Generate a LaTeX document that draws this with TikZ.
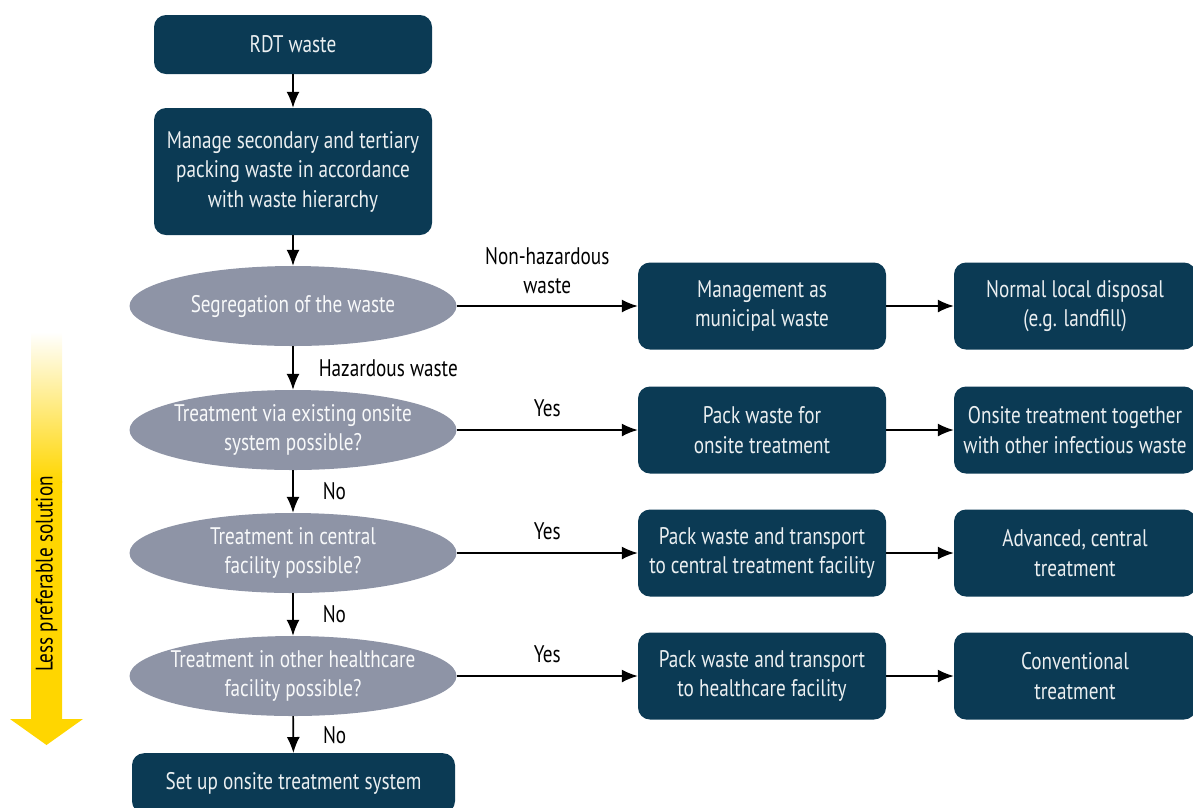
\documentclass[tikz,border=0pt]{standalone}
\usepackage{fontspec}
\setmainfont[FakeStretch=0.8]{PT Sans}
\usetikzlibrary{arrows.meta,shapes.geometric}
\definecolor{bleuBoite}{RGB}{11,58,84}
\definecolor{grisBulle}{RGB}{142,148,166}
\definecolor{jauneFleche}{RGB}{255,214,0}

\begin{document}
\begin{tikzpicture}[x=1pt,y=-1pt]
    % Styles
    \tikzstyle{fleche}=[-{Latex[length=16pt,width=13pt]},line width=1.6pt]
    \tikzstyle{texte}=[font=\fontsize{24}{29.5}\selectfont,align=center,inner sep=0pt]
    \tikzstyle{boite}=[texte,fill=bleuBoite,text=white!92!bleuBoite,rounded corners=12pt]
    \tikzstyle{bulle}=[texte,ellipse,inner xsep=-30pt,fill=grisBulle,text=white!94!grisBulle,minimum width=327pt,minimum height=80pt]
    \tikzstyle{etiquette}=[texte,midway]
    % Dimensions
    \def\ColA{293}
    \def\ColB{762}
    \def\ColC{1075}
    \def\NiveauA{306}
    \def\NiveauB{430}
    \def\NiveauC{553}
    \def\NiveauD{676}
    \useasboundingbox (0,0) rectangle (1193,807);
    % Fleche jaune
    \shade[top color=white,bottom color=jauneFleche] (31,332) rectangle (62,482);
    \fill[jauneFleche] (31,481) -- (62,481) -- (62,719) -- (83,719) -- (46.5,745) -- (10,719) -- (31,719) -- cycle;
    \node[texte,rotate=90] (moins) at (46.5,574) {Less preferable solution};
    % Noeuds
    \node[boite,minimum width=278pt,minimum height=59pt] (rdt) at (\ColA,44.5) {RDT waste};
    \node[boite,minimum width=278pt,minimum height=127pt] (gerer) at (\ColA,171.5) {Manage secondary and tertiary\\packing waste in accordance\\with waste hierarchy};
    \node[bulle] (tri) at (\ColA,\NiveauA) {Segregation of the waste};
    \node[bulle] (surplace) at (\ColA,\NiveauB) {Treatment via existing onsite\\system possible?};
    \node[bulle] (central) at (\ColA,\NiveauC) {Treatment in central\\facility possible?};
    \node[bulle] (autre) at (\ColA,\NiveauD) {Treatment in other healthcare\\facility possible?};
    \node[boite,minimum width=323pt,minimum height=60pt,anchor=north] (installer) at (293.5,753) {Set up onsite treatment system};
    \node[boite,minimum width=248pt,minimum height=87pt] (municipal) at (\ColB,\NiveauA) {Management as\\municipal waste};
    \node[boite,minimum width=248pt,minimum height=87pt] (emballer) at (\ColB,\NiveauB) {Pack waste for\\onsite treatment};
    \node[boite,minimum width=248pt,minimum height=87pt] (transportC) at (\ColB,\NiveauC) {Pack waste and transport\\to central treatment facility};
    \node[boite,minimum width=248pt,minimum height=87pt] (transportH) at (\ColB,\NiveauD) {Pack waste and transport\\to healthcare facility};
    \node[boite,minimum width=242pt,minimum height=87pt] (decharge) at (\ColC,\NiveauA) {Normal local disposal\\(e.g. landfill)};
    \node[boite,minimum width=242pt,minimum height=87pt] (infectieux) at (\ColC,\NiveauB) {Onsite treatment together\\with other infectious waste};
    \node[boite,minimum width=242pt,minimum height=87pt] (avance) at (\ColC,\NiveauC) {Advanced, central\\treatment};
    \node[boite,minimum width=242pt,minimum height=87pt] (classique) at (\ColC,\NiveauD) {Conventional\\treatment};
    % Arcs
    \draw[fleche] (rdt)--(gerer) ;
    \draw[fleche] (gerer)--(tri) ;
    \draw[fleche] (tri)--(surplace) node[etiquette,right=25pt] {Hazardous waste} ;
    \draw[fleche] (surplace)--(central) node[etiquette,right=29pt] {No} ;
    \draw[fleche] (central)--(autre) node[etiquette,right=29pt] {No} ;
    \draw[fleche] (autre)--(installer) node[etiquette,right=29pt] {No} ;

    \draw[fleche] (tri)--(municipal) node[etiquette,above=11pt] {Non-hazardous\\waste} ;
    \draw[fleche] (surplace)--(emballer) node[etiquette,above=12pt] {Yes} ;
    \draw[fleche] (central)--(transportC) node[etiquette,above=12pt] {Yes} ;
    \draw[fleche] (autre)--(transportH) node[etiquette,above=12pt] {Yes} ;

    \draw[fleche] (municipal)--(decharge) ;
    \draw[fleche] (emballer)--(infectieux) ;
    \draw[fleche] (transportC)--(avance) ;
    \draw[fleche] (transportH)--(classique) ;
  \end{tikzpicture}
\end{document}
